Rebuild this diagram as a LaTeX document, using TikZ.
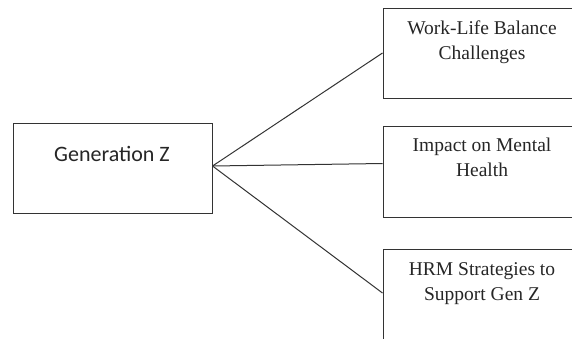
\documentclass[tikz,border=0pt]{standalone}
\usepackage{fontspec}
\setmainfont{Liberation Serif}
\newfontfamily\gzfont{Carlito}
\begin{document}
\begin{tikzpicture}[x=1pt,y=-1pt,
  box/.style={draw=black!80, line width=1pt, rectangle, inner sep=0pt},
  lbl/.style={anchor=north, align=center, inner sep=0pt, font=\fontsize{19.5}{25}\selectfont, text=black!85},
  conn/.style={draw=black!80, line width=1pt}]
\useasboundingbox (0,0) rectangle (572,338);
\fill[white] (0,0) rectangle (572,338);
% boxes
\node[box, minimum width=199pt, minimum height=90pt] (gz) at (112.5,168) {};
\node[box, minimum width=192pt, minimum height=90pt] (b1) at (479,53) {};
\node[box, minimum width=192pt, minimum height=91pt] (b2) at (479,171.5) {};
\node[box, minimum width=192pt, minimum height=96pt] (b3) at (479,297) {};
% labels
\node[anchor=north, inner sep=0pt, font=\gzfont\fontsize{22}{26}\selectfont, text=black!85] (tgz) at (112,146) {Generation Z};
\node[lbl] (t1) at (482,21) {Work-Life Balance\\Challenges};
\node[lbl] (t2) at (482,138) {Impact on Mental\\Health};
\node[lbl] (t3) at (482,262) {HRM Strategies to\\Support Gen Z};
% connectors
\coordinate (gc) at ([yshift=2pt]gz.east);
\coordinate (c2) at ([yshift=8pt]b2.west);
\coordinate (c3) at ([yshift=4pt]b3.west);
\draw[conn] (gc) -- (b1.west);
\draw[conn] (gc) -- (c2);
\draw[conn] (gc) -- (c3);
\end{tikzpicture}
\end{document}
